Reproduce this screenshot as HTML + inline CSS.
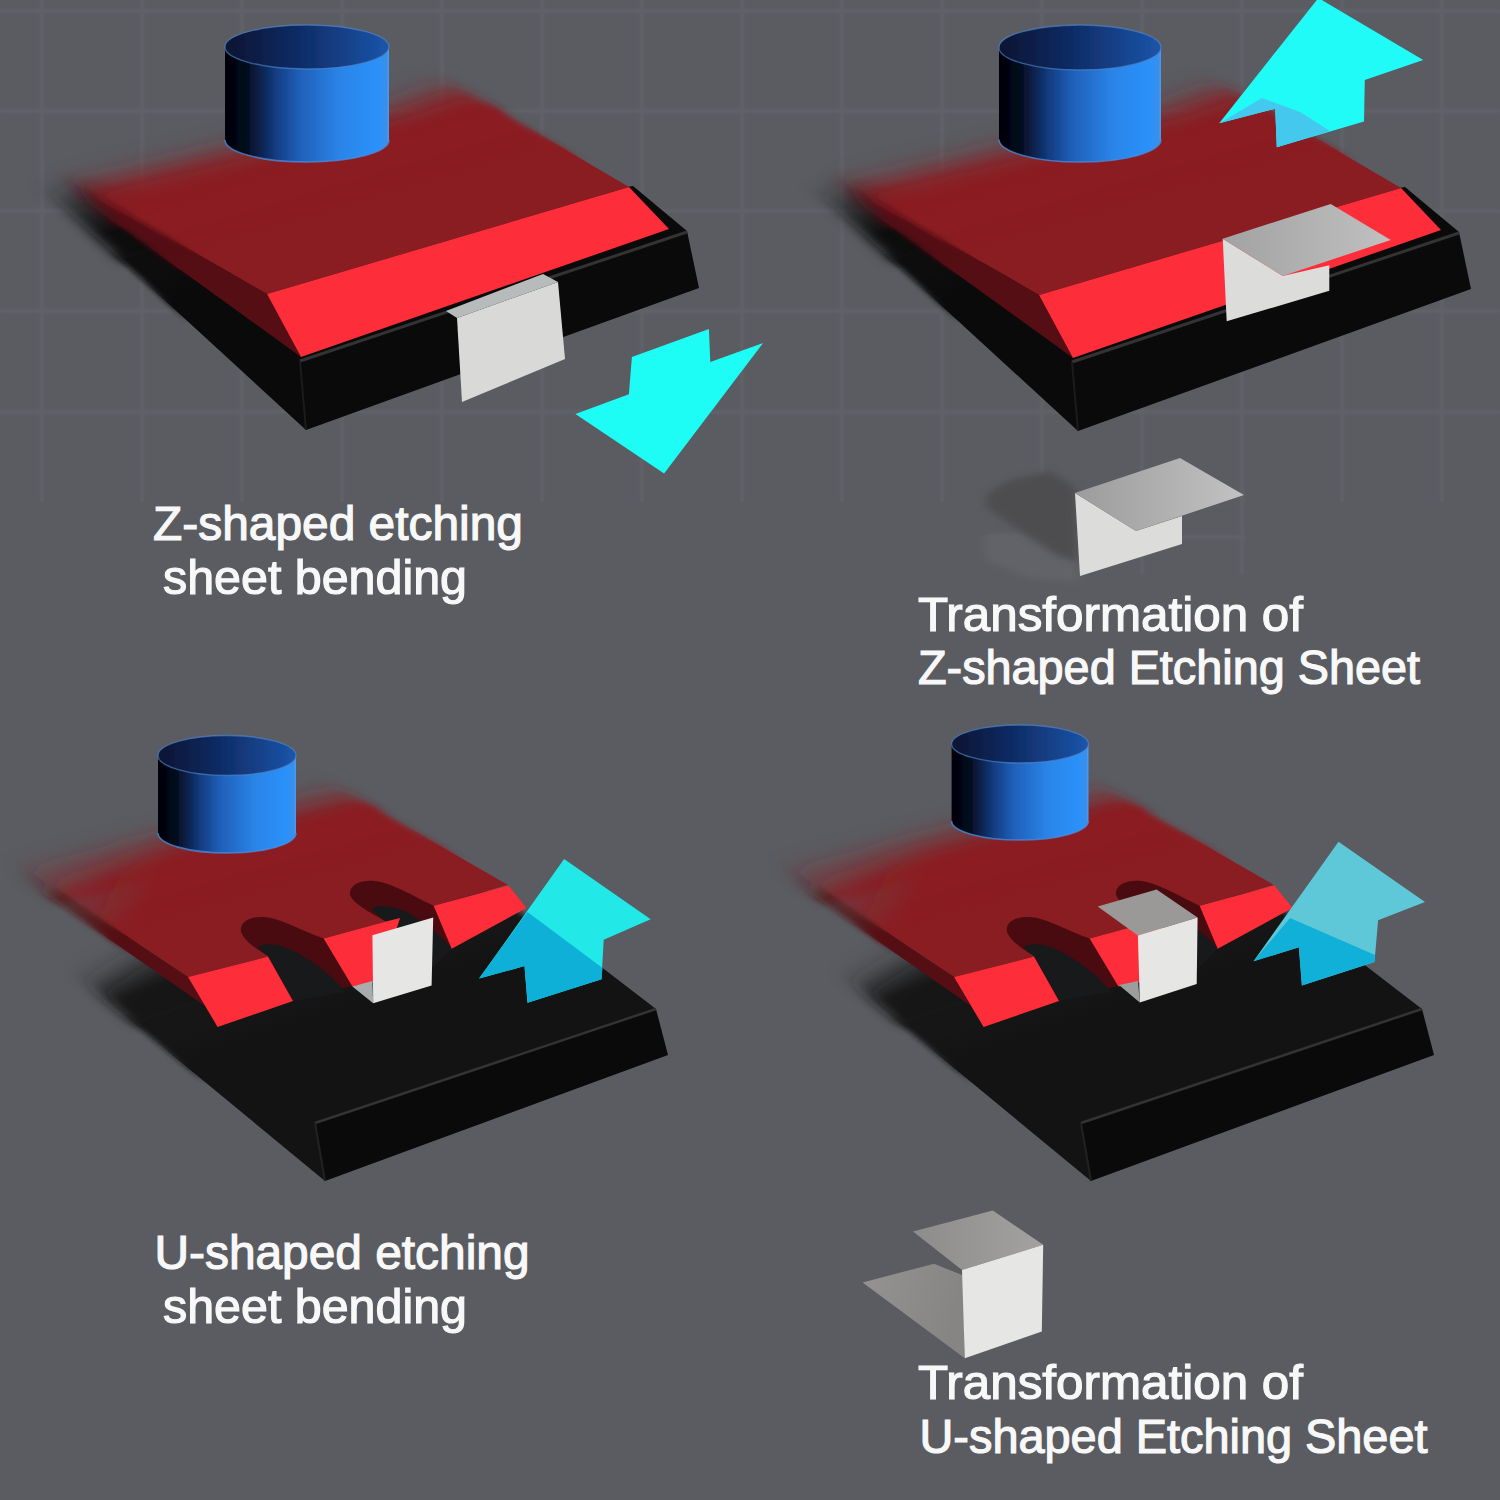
<!DOCTYPE html>
<html><head><meta charset="utf-8"><style>
html,body{margin:0;padding:0;background:#5a5c61;}
svg{display:block;}
text{font-family:"Liberation Sans",sans-serif;}
</style></head><body>
<svg width="1500" height="1500" viewBox="0 0 1500 1500">
<defs>
<linearGradient id="cylSide" x1="0" y1="0" x2="1" y2="0">
<stop offset="0" stop-color="#02040c"/>
<stop offset="0.12" stop-color="#040818"/>
<stop offset="0.3" stop-color="#123a7c"/>
<stop offset="0.45" stop-color="#1f5fb8"/>
<stop offset="0.7" stop-color="#2a84e8"/>
<stop offset="0.93" stop-color="#2c91fa"/>
<stop offset="1" stop-color="#3a8fe8"/>
</linearGradient>
<linearGradient id="cylTop" x1="0" y1="0" x2="1" y2="0">
<stop offset="0" stop-color="#071330"/>
<stop offset="0.45" stop-color="#0f2c66"/>
<stop offset="1" stop-color="#1b55aa"/>
</linearGradient>
<linearGradient id="blkFadeT" gradientUnits="userSpaceOnUse" x1="50" y1="195" x2="130" y2="250">
<stop offset="0" stop-color="#0a0a0a" stop-opacity="0.15"/><stop offset="1" stop-color="#0a0a0a" stop-opacity="1"/></linearGradient>
<linearGradient id="blkFadeB" gradientUnits="userSpaceOnUse" x1="90" y1="975" x2="200" y2="1060">
<stop offset="0" stop-color="#0c0c0c" stop-opacity="0.1"/><stop offset="1" stop-color="#0c0c0c" stop-opacity="1"/></linearGradient>
<filter id="ghost" x="-50%" y="-50%" width="200%" height="200%"><feGaussianBlur stdDeviation="5 3"/></filter>
<linearGradient id="zTop" gradientUnits="userSpaceOnUse" x1="1075" y1="0" x2="1244" y2="0">
<stop offset="0" stop-color="#9c9c9c"/><stop offset="1" stop-color="#c2c2c2"/></linearGradient>
<linearGradient id="zTop2" gradientUnits="userSpaceOnUse" x1="1222" y1="0" x2="1390" y2="0">
<stop offset="0" stop-color="#a2a2a2"/><stop offset="1" stop-color="#c0c0c0"/></linearGradient>
<linearGradient id="uBot" gradientUnits="userSpaceOnUse" x1="870" y1="1275" x2="960" y2="1300">
<stop offset="0" stop-color="#949290"/><stop offset="1" stop-color="#878583"/></linearGradient>
<linearGradient id="uTop" gradientUnits="userSpaceOnUse" x1="913" y1="0" x2="1043" y2="0">
<stop offset="0" stop-color="#8e8c8a"/><stop offset="1" stop-color="#a4a2a0"/></linearGradient>
<linearGradient id="redFadeB" gradientUnits="userSpaceOnUse" x1="30" y1="868" x2="140" y2="920">
<stop offset="0" stop-color="#8a1d22" stop-opacity="0.35"/><stop offset="1" stop-color="#8a1d22" stop-opacity="1"/></linearGradient>
<linearGradient id="bevFadeB" gradientUnits="userSpaceOnUse" x1="30" y1="868" x2="140" y2="920">
<stop offset="0" stop-color="#550e13" stop-opacity="0.35"/><stop offset="1" stop-color="#550e13" stop-opacity="1"/></linearGradient>
<filter id="soft" x="-5%" y="-5%" width="110%" height="110%"><feGaussianBlur stdDeviation="1"/></filter>
<filter id="b1" x="-10%" y="-10%" width="120%" height="120%"><feGaussianBlur stdDeviation="0.7"/></filter>
<filter id="b6" x="-50%" y="-50%" width="200%" height="200%"><feGaussianBlur stdDeviation="6"/></filter>
<filter id="b10" x="-50%" y="-50%" width="200%" height="200%"><feGaussianBlur stdDeviation="10"/></filter>
</defs>
<rect width="1500" height="1500" fill="#5a5c61"/>

<g stroke="#606267" stroke-width="4" filter="url(#soft)">
<line x1="42" y1="0" x2="42" y2="502"/>
<line x1="142" y1="0" x2="142" y2="502"/>
<line x1="242" y1="0" x2="242" y2="502"/>
<line x1="342" y1="0" x2="342" y2="502"/>
<line x1="442" y1="0" x2="442" y2="502"/>
<line x1="542" y1="0" x2="542" y2="502"/>
<line x1="642" y1="0" x2="642" y2="502"/>
<line x1="742" y1="0" x2="742" y2="502"/>
<line x1="842" y1="0" x2="842" y2="502"/>
<line x1="942" y1="0" x2="942" y2="502"/>
<line x1="1042" y1="0" x2="1042" y2="575"/>
<line x1="1142" y1="0" x2="1142" y2="575"/>
<line x1="1242" y1="0" x2="1242" y2="575"/>
<line x1="1342" y1="0" x2="1342" y2="502"/>
<line x1="1442" y1="0" x2="1442" y2="502"/>
<line x1="0" y1="11" x2="1500" y2="11"/>
<line x1="0" y1="111" x2="1500" y2="111"/>
<line x1="0" y1="211" x2="1500" y2="211"/>
<line x1="0" y1="311" x2="1500" y2="311"/>
<line x1="0" y1="412" x2="1500" y2="412"/>
<line x1="985" y1="537" x2="1245" y2="537"/>
</g>
<defs>
<g id="cq1b"><g transform="translate(0,0)"><polygon points="306.0,430.0 699.0,288.0 687.0,231.0 633.0,186.0 300.0,240.0 75.0,180.0 50.0,195.0" fill="#0a0a0a" />
<line x1="300" y1="361" x2="687" y2="232" stroke="#333" stroke-width="3"/>
<line x1="300" y1="361" x2="306" y2="430" stroke="#1c1c1c" stroke-width="2"/></g></g>
<linearGradient id="gq1b0" gradientUnits="userSpaceOnUse" x1="300.0" y1="360.0" x2="218.4" y2="113.3"><stop offset="0.5385" stop-color="#fff" stop-opacity="0"/><stop offset="0.5962" stop-color="#fff" stop-opacity="1"/><stop offset="0.6923" stop-color="#fff" stop-opacity="1"/><stop offset="1.0192" stop-color="#fff" stop-opacity="0"/></linearGradient>
<mask id="mq1b0" maskUnits="userSpaceOnUse" x="-200" y="-200" width="1900" height="1900"><rect x="-200" y="-200" width="1900" height="1900" fill="url(#gq1b0)"/></mask>
<filter id="fq1b0" filterUnits="userSpaceOnUse" x="-2000" y="-2000" width="5000" height="5000"><feGaussianBlur stdDeviation="18 5"/></filter>
<linearGradient id="gq1b1" gradientUnits="userSpaceOnUse" x1="300.0" y1="360.0" x2="218.4" y2="113.3"><stop offset="0.2692" stop-color="#fff" stop-opacity="0"/><stop offset="0.3462" stop-color="#fff" stop-opacity="1"/><stop offset="0.5769" stop-color="#fff" stop-opacity="1"/><stop offset="0.6346" stop-color="#fff" stop-opacity="0"/></linearGradient>
<mask id="mq1b1" maskUnits="userSpaceOnUse" x="-200" y="-200" width="1900" height="1900"><rect x="-200" y="-200" width="1900" height="1900" fill="url(#gq1b1)"/></mask>
<filter id="fq1b1" filterUnits="userSpaceOnUse" x="-2000" y="-2000" width="5000" height="5000"><feGaussianBlur stdDeviation="5 2.5"/></filter>
<linearGradient id="gq1b2" gradientUnits="userSpaceOnUse" x1="300.0" y1="360.0" x2="218.4" y2="113.3"><stop offset="0.0000" stop-color="#fff" stop-opacity="1"/><stop offset="0.3462" stop-color="#fff" stop-opacity="1"/><stop offset="0.4808" stop-color="#fff" stop-opacity="0"/></linearGradient>
<mask id="mq1b2" maskUnits="userSpaceOnUse" x="-200" y="-200" width="1900" height="1900"><rect x="-200" y="-200" width="1900" height="1900" fill="url(#gq1b2)"/></mask>
</defs>
<g mask="url(#mq1b0)"><g transform="rotate(30.4 300 360)"><g filter="url(#fq1b0)"><use href="#cq1b" transform="rotate(-30.4 300 360)"/></g></g></g>
<g mask="url(#mq1b1)"><g transform="rotate(30.4 300 360)"><g filter="url(#fq1b1)"><use href="#cq1b" transform="rotate(-30.4 300 360)"/></g></g></g>
<g mask="url(#mq1b2)"><use href="#cq1b"/></g>
<defs>
<g id="cq1p"><g transform="translate(0,0)"><polygon points="267.0,294.0 301.0,357.0 88.0,203.0 80.0,186.0" fill="#550e13" />
<polygon points="267.0,294.0 629.0,187.0 462.0,89.0 440.0,92.0 400.0,107.0 215.0,154.0 80.0,186.0" fill="#8a1d22" />
<polygon points="267.0,294.0 629.0,187.0 669.0,229.0 301.0,357.0" fill="#fe2d3a" /></g></g>
<linearGradient id="gq1p0" gradientUnits="userSpaceOnUse" x1="267.0" y1="294.0" x2="193.4" y2="44.7"><stop offset="0.3846" stop-color="#fff" stop-opacity="0"/><stop offset="0.4308" stop-color="#fff" stop-opacity="1"/><stop offset="0.5577" stop-color="#fff" stop-opacity="1"/><stop offset="0.8846" stop-color="#fff" stop-opacity="0"/></linearGradient>
<mask id="mq1p0" maskUnits="userSpaceOnUse" x="-200" y="-200" width="1900" height="1900"><rect x="-200" y="-200" width="1900" height="1900" fill="url(#gq1p0)"/></mask>
<filter id="fq1p0" filterUnits="userSpaceOnUse" x="-2000" y="-2000" width="5000" height="5000"><feGaussianBlur stdDeviation="18 5"/></filter>
<linearGradient id="gq1p1" gradientUnits="userSpaceOnUse" x1="267.0" y1="294.0" x2="193.4" y2="44.7"><stop offset="0.1346" stop-color="#fff" stop-opacity="0"/><stop offset="0.2115" stop-color="#fff" stop-opacity="1"/><stop offset="0.4231" stop-color="#fff" stop-opacity="1"/><stop offset="0.4808" stop-color="#fff" stop-opacity="0"/></linearGradient>
<mask id="mq1p1" maskUnits="userSpaceOnUse" x="-200" y="-200" width="1900" height="1900"><rect x="-200" y="-200" width="1900" height="1900" fill="url(#gq1p1)"/></mask>
<filter id="fq1p1" filterUnits="userSpaceOnUse" x="-2000" y="-2000" width="5000" height="5000"><feGaussianBlur stdDeviation="5 2.5"/></filter>
<linearGradient id="gq1p2" gradientUnits="userSpaceOnUse" x1="267.0" y1="294.0" x2="193.4" y2="44.7"><stop offset="0.0000" stop-color="#fff" stop-opacity="1"/><stop offset="0.2115" stop-color="#fff" stop-opacity="1"/><stop offset="0.3269" stop-color="#fff" stop-opacity="0"/></linearGradient>
<mask id="mq1p2" maskUnits="userSpaceOnUse" x="-200" y="-200" width="1900" height="1900"><rect x="-200" y="-200" width="1900" height="1900" fill="url(#gq1p2)"/></mask>
</defs>
<g mask="url(#mq1p0)"><g transform="rotate(30.4 267 294)"><g filter="url(#fq1p0)"><use href="#cq1p" transform="rotate(-30.4 267 294)"/></g></g></g>
<g mask="url(#mq1p1)"><g transform="rotate(30.4 267 294)"><g filter="url(#fq1p1)"><use href="#cq1p" transform="rotate(-30.4 267 294)"/></g></g></g>
<g mask="url(#mq1p2)"><use href="#cq1p"/></g>
<g filter="url(#b1)">
<path d="M225.0,47.0 L225.0,140.0 A82.0,22.0 0 0 0 389.0,140.0 L389.0,47.0 Z" fill="url(#cylSide)"/>
<path d="M225.0,140.0 A82.0,22.0 0 0 0 389.0,140.0" fill="none" stroke="#4a8ee0" stroke-width="1.6" stroke-opacity="0.75"/>
<line x1="388.2" y1="47.0" x2="388.2" y2="140.0" stroke="#5aa0ee" stroke-width="1.6" stroke-opacity="0.6"/>
<ellipse cx="307.0" cy="47.0" rx="82.0" ry="22.0" fill="url(#cylTop)" stroke="#4f86cc" stroke-width="1.4" stroke-opacity="0.65"/>
</g>
<polygon points="446.0,311.0 543.0,274.0 558.0,282.0 457.0,318.0" fill="#b7bbbb" />
<polygon points="457.0,318.0 558.0,282.0 565.0,359.0 462.0,402.0" fill="#d9d9d7" />
<polygon points="575.4,414.1 628.9,394.3 631.9,356.9 708.9,329.1 710.3,362.1 763.1,343.0 664.1,473.5" fill="#1efcf6" />
<defs>
<g id="cq2b"><g transform="translate(772,1)"><polygon points="306.0,430.0 699.0,288.0 687.0,231.0 633.0,186.0 300.0,240.0 75.0,180.0 50.0,195.0" fill="#0a0a0a" />
<line x1="300" y1="361" x2="687" y2="232" stroke="#333" stroke-width="3"/>
<line x1="300" y1="361" x2="306" y2="430" stroke="#1c1c1c" stroke-width="2"/></g></g>
<linearGradient id="gq2b0" gradientUnits="userSpaceOnUse" x1="1072.0" y1="361.0" x2="990.4" y2="114.3"><stop offset="0.5385" stop-color="#fff" stop-opacity="0"/><stop offset="0.5962" stop-color="#fff" stop-opacity="1"/><stop offset="0.6923" stop-color="#fff" stop-opacity="1"/><stop offset="1.0192" stop-color="#fff" stop-opacity="0"/></linearGradient>
<mask id="mq2b0" maskUnits="userSpaceOnUse" x="-200" y="-200" width="1900" height="1900"><rect x="-200" y="-200" width="1900" height="1900" fill="url(#gq2b0)"/></mask>
<filter id="fq2b0" filterUnits="userSpaceOnUse" x="-2000" y="-2000" width="5000" height="5000"><feGaussianBlur stdDeviation="18 5"/></filter>
<linearGradient id="gq2b1" gradientUnits="userSpaceOnUse" x1="1072.0" y1="361.0" x2="990.4" y2="114.3"><stop offset="0.2692" stop-color="#fff" stop-opacity="0"/><stop offset="0.3462" stop-color="#fff" stop-opacity="1"/><stop offset="0.5769" stop-color="#fff" stop-opacity="1"/><stop offset="0.6346" stop-color="#fff" stop-opacity="0"/></linearGradient>
<mask id="mq2b1" maskUnits="userSpaceOnUse" x="-200" y="-200" width="1900" height="1900"><rect x="-200" y="-200" width="1900" height="1900" fill="url(#gq2b1)"/></mask>
<filter id="fq2b1" filterUnits="userSpaceOnUse" x="-2000" y="-2000" width="5000" height="5000"><feGaussianBlur stdDeviation="5 2.5"/></filter>
<linearGradient id="gq2b2" gradientUnits="userSpaceOnUse" x1="1072.0" y1="361.0" x2="990.4" y2="114.3"><stop offset="0.0000" stop-color="#fff" stop-opacity="1"/><stop offset="0.3462" stop-color="#fff" stop-opacity="1"/><stop offset="0.4808" stop-color="#fff" stop-opacity="0"/></linearGradient>
<mask id="mq2b2" maskUnits="userSpaceOnUse" x="-200" y="-200" width="1900" height="1900"><rect x="-200" y="-200" width="1900" height="1900" fill="url(#gq2b2)"/></mask>
</defs>
<g mask="url(#mq2b0)"><g transform="rotate(30.4 1072 361)"><g filter="url(#fq2b0)"><use href="#cq2b" transform="rotate(-30.4 1072 361)"/></g></g></g>
<g mask="url(#mq2b1)"><g transform="rotate(30.4 1072 361)"><g filter="url(#fq2b1)"><use href="#cq2b" transform="rotate(-30.4 1072 361)"/></g></g></g>
<g mask="url(#mq2b2)"><use href="#cq2b"/></g>
<defs>
<g id="cq2p"><g transform="translate(772,1)"><polygon points="267.0,294.0 301.0,357.0 88.0,203.0 80.0,186.0" fill="#550e13" />
<polygon points="267.0,294.0 629.0,187.0 462.0,89.0 440.0,92.0 400.0,107.0 215.0,154.0 80.0,186.0" fill="#8a1d22" />
<polygon points="267.0,294.0 629.0,187.0 669.0,229.0 301.0,357.0" fill="#fe2d3a" /></g></g>
<linearGradient id="gq2p0" gradientUnits="userSpaceOnUse" x1="1039.0" y1="295.0" x2="965.4" y2="45.7"><stop offset="0.3846" stop-color="#fff" stop-opacity="0"/><stop offset="0.4308" stop-color="#fff" stop-opacity="1"/><stop offset="0.5577" stop-color="#fff" stop-opacity="1"/><stop offset="0.8846" stop-color="#fff" stop-opacity="0"/></linearGradient>
<mask id="mq2p0" maskUnits="userSpaceOnUse" x="-200" y="-200" width="1900" height="1900"><rect x="-200" y="-200" width="1900" height="1900" fill="url(#gq2p0)"/></mask>
<filter id="fq2p0" filterUnits="userSpaceOnUse" x="-2000" y="-2000" width="5000" height="5000"><feGaussianBlur stdDeviation="18 5"/></filter>
<linearGradient id="gq2p1" gradientUnits="userSpaceOnUse" x1="1039.0" y1="295.0" x2="965.4" y2="45.7"><stop offset="0.1346" stop-color="#fff" stop-opacity="0"/><stop offset="0.2115" stop-color="#fff" stop-opacity="1"/><stop offset="0.4231" stop-color="#fff" stop-opacity="1"/><stop offset="0.4808" stop-color="#fff" stop-opacity="0"/></linearGradient>
<mask id="mq2p1" maskUnits="userSpaceOnUse" x="-200" y="-200" width="1900" height="1900"><rect x="-200" y="-200" width="1900" height="1900" fill="url(#gq2p1)"/></mask>
<filter id="fq2p1" filterUnits="userSpaceOnUse" x="-2000" y="-2000" width="5000" height="5000"><feGaussianBlur stdDeviation="5 2.5"/></filter>
<linearGradient id="gq2p2" gradientUnits="userSpaceOnUse" x1="1039.0" y1="295.0" x2="965.4" y2="45.7"><stop offset="0.0000" stop-color="#fff" stop-opacity="1"/><stop offset="0.2115" stop-color="#fff" stop-opacity="1"/><stop offset="0.3269" stop-color="#fff" stop-opacity="0"/></linearGradient>
<mask id="mq2p2" maskUnits="userSpaceOnUse" x="-200" y="-200" width="1900" height="1900"><rect x="-200" y="-200" width="1900" height="1900" fill="url(#gq2p2)"/></mask>
</defs>
<g mask="url(#mq2p0)"><g transform="rotate(30.4 1039 295)"><g filter="url(#fq2p0)"><use href="#cq2p" transform="rotate(-30.4 1039 295)"/></g></g></g>
<g mask="url(#mq2p1)"><g transform="rotate(30.4 1039 295)"><g filter="url(#fq2p1)"><use href="#cq2p" transform="rotate(-30.4 1039 295)"/></g></g></g>
<g mask="url(#mq2p2)"><use href="#cq2p"/></g>
<g filter="url(#b1)">
<path d="M999.0,47.5 L999.0,139.5 A81.0,22.5 0 0 0 1161.0,139.5 L1161.0,47.5 Z" fill="url(#cylSide)"/>
<path d="M999.0,139.5 A81.0,22.5 0 0 0 1161.0,139.5" fill="none" stroke="#4a8ee0" stroke-width="1.6" stroke-opacity="0.75"/>
<line x1="1160.2" y1="47.5" x2="1160.2" y2="139.5" stroke="#5aa0ee" stroke-width="1.6" stroke-opacity="0.6"/>
<ellipse cx="1080.0" cy="47.5" rx="81.0" ry="22.5" fill="url(#cylTop)" stroke="#4f86cc" stroke-width="1.4" stroke-opacity="0.65"/>
</g>
<polygon points="1222.7,238.7 1282.7,276.0 1329.3,265.3 1329.3,290.7 1226.7,321.3" fill="#dcdcda" />
<polygon points="1222.7,238.7 1330.7,204.0 1390.7,240.0 1282.7,276.0" fill="url(#zTop2)" />
<polygon points="1318.4,-2.0 1423.2,60.0 1364.8,80.0 1364.0,121.6 1276.8,147.2 1275.2,108.8 1219.2,123.2" fill="#20fbf8" />
<polygon points="1219.2,123.2 1275.2,108.8 1276.8,147.2 1330.0,131.0 1300.0,112.0 1262.0,98.0" fill="#45c8ee" />
<polygon points="984,536 1030,532 1076,545 1078,582 1030,578 986,560" fill="#626468" filter="url(#ghost)"/>
<polygon points="986,494 1010,480 1050,471 1076,488 1078,562 1058,556 1030,538 986,507" fill="#4e4d50" filter="url(#ghost)"/>
<g filter="url(#b1)">
<polygon points="1075.0,493.0 1136.0,531.0 1182.0,516.0 1182.0,544.0 1080.0,576.0" fill="#dcdcda" />
<polygon points="1075.0,493.0 1180.0,458.0 1244.0,495.0 1136.0,531.0" fill="url(#zTop)" />
</g>
<defs>
<g id="cq3b"><g transform="translate(0,0)"><polygon points="325.0,1181.0 315.0,1123.0 656.0,1009.0 600.0,966.0 470.0,880.0 200.0,930.0 130.0,962.0 95.0,985.0 103.0,998.0" fill="#131313" />
<polygon points="315.0,1123.0 656.0,1009.0 668.0,1055.0 325.0,1181.0" fill="#0a0a0a" />
<line x1="315" y1="1123" x2="656" y2="1009" stroke="#333" stroke-width="2.5"/>
<line x1="315" y1="1123" x2="325" y2="1181" stroke="#222" stroke-width="2"/></g></g>
<linearGradient id="gq3b0" gradientUnits="userSpaceOnUse" x1="315.0" y1="1123.0" x2="232.6" y2="876.5"><stop offset="0.5385" stop-color="#fff" stop-opacity="0"/><stop offset="0.5962" stop-color="#fff" stop-opacity="1"/><stop offset="0.6923" stop-color="#fff" stop-opacity="1"/><stop offset="1.0192" stop-color="#fff" stop-opacity="0"/></linearGradient>
<mask id="mq3b0" maskUnits="userSpaceOnUse" x="-200" y="-200" width="1900" height="1900"><rect x="-200" y="-200" width="1900" height="1900" fill="url(#gq3b0)"/></mask>
<filter id="fq3b0" filterUnits="userSpaceOnUse" x="-2000" y="-2000" width="5000" height="5000"><feGaussianBlur stdDeviation="18 5"/></filter>
<linearGradient id="gq3b1" gradientUnits="userSpaceOnUse" x1="315.0" y1="1123.0" x2="232.6" y2="876.5"><stop offset="0.2692" stop-color="#fff" stop-opacity="0"/><stop offset="0.3462" stop-color="#fff" stop-opacity="1"/><stop offset="0.5769" stop-color="#fff" stop-opacity="1"/><stop offset="0.6346" stop-color="#fff" stop-opacity="0"/></linearGradient>
<mask id="mq3b1" maskUnits="userSpaceOnUse" x="-200" y="-200" width="1900" height="1900"><rect x="-200" y="-200" width="1900" height="1900" fill="url(#gq3b1)"/></mask>
<filter id="fq3b1" filterUnits="userSpaceOnUse" x="-2000" y="-2000" width="5000" height="5000"><feGaussianBlur stdDeviation="5 2.5"/></filter>
<linearGradient id="gq3b2" gradientUnits="userSpaceOnUse" x1="315.0" y1="1123.0" x2="232.6" y2="876.5"><stop offset="0.0000" stop-color="#fff" stop-opacity="1"/><stop offset="0.3462" stop-color="#fff" stop-opacity="1"/><stop offset="0.4808" stop-color="#fff" stop-opacity="0"/></linearGradient>
<mask id="mq3b2" maskUnits="userSpaceOnUse" x="-200" y="-200" width="1900" height="1900"><rect x="-200" y="-200" width="1900" height="1900" fill="url(#gq3b2)"/></mask>
</defs>
<g mask="url(#mq3b0)"><g transform="rotate(30.4 315 1123)"><g filter="url(#fq3b0)"><use href="#cq3b" transform="rotate(-30.4 315 1123)"/></g></g></g>
<g mask="url(#mq3b1)"><g transform="rotate(30.4 315 1123)"><g filter="url(#fq3b1)"><use href="#cq3b" transform="rotate(-30.4 315 1123)"/></g></g></g>
<g mask="url(#mq3b2)"><use href="#cq3b"/></g>
<defs>
<g id="cq3p"><g transform="translate(0,0)"><polygon points="188.0,977.0 205.0,1006.0 40.0,891.0 35.0,874.0" fill="url(#bevFadeB)" />
<polygon points="188.0,977.0 268.0,956.6 323.6,938.6 386.0,921.6 433.6,905.8 508.0,885.0 350.0,794.0 330.0,798.0 150.0,845.0 35.0,874.0" fill="url(#redFadeB)" />
<path d="M268,956 C258,950 245,942 241,932 C239,921 252,916 264,917 C280,918 300,930 323.6,938.6 L352,986 L293,1001 Z" fill="#4a0b10"/>
<path d="M268,956 C262,952 258,949 258,947 C266,942 282,944 298,953 C312,962 330,972 345,992 L293,1001 Z" fill="#17191b"/>
<path d="M386,921.6 C372,913 354,905 350,895 C349,884 362,880 375,881 C392,883 415,897 433.6,905.8 L452,948 L420,980 Z" fill="#4a0b10"/>
<path d="M386,921.6 C378,915 372,911 372,909 C380,903 398,907 412,915 C425,924 440,935 452,948 L420,980 Z" fill="#17191b"/>
<polygon points="188.0,977.0 268.0,956.6 293.0,1001.0 217.6,1027.0" fill="#fe2d3a" />
<polygon points="323.6,938.6 386.0,921.6 400.0,918.0 380.0,981.0 352.4,986.4" fill="#fe2d3a" />
<polygon points="433.6,905.8 508.4,885.4 526.5,908.0 451.7,948.8" fill="#fe2d3a" /></g></g>
<linearGradient id="gq3p0" gradientUnits="userSpaceOnUse" x1="188.0" y1="977.0" x2="116.2" y2="727.1"><stop offset="0.3846" stop-color="#fff" stop-opacity="0"/><stop offset="0.4308" stop-color="#fff" stop-opacity="1"/><stop offset="0.5577" stop-color="#fff" stop-opacity="1"/><stop offset="0.8846" stop-color="#fff" stop-opacity="0"/></linearGradient>
<mask id="mq3p0" maskUnits="userSpaceOnUse" x="-200" y="-200" width="1900" height="1900"><rect x="-200" y="-200" width="1900" height="1900" fill="url(#gq3p0)"/></mask>
<filter id="fq3p0" filterUnits="userSpaceOnUse" x="-2000" y="-2000" width="5000" height="5000"><feGaussianBlur stdDeviation="18 5"/></filter>
<linearGradient id="gq3p1" gradientUnits="userSpaceOnUse" x1="188.0" y1="977.0" x2="116.2" y2="727.1"><stop offset="0.1346" stop-color="#fff" stop-opacity="0"/><stop offset="0.2115" stop-color="#fff" stop-opacity="1"/><stop offset="0.4231" stop-color="#fff" stop-opacity="1"/><stop offset="0.4808" stop-color="#fff" stop-opacity="0"/></linearGradient>
<mask id="mq3p1" maskUnits="userSpaceOnUse" x="-200" y="-200" width="1900" height="1900"><rect x="-200" y="-200" width="1900" height="1900" fill="url(#gq3p1)"/></mask>
<filter id="fq3p1" filterUnits="userSpaceOnUse" x="-2000" y="-2000" width="5000" height="5000"><feGaussianBlur stdDeviation="5 2.5"/></filter>
<linearGradient id="gq3p2" gradientUnits="userSpaceOnUse" x1="188.0" y1="977.0" x2="116.2" y2="727.1"><stop offset="0.0000" stop-color="#fff" stop-opacity="1"/><stop offset="0.2115" stop-color="#fff" stop-opacity="1"/><stop offset="0.3269" stop-color="#fff" stop-opacity="0"/></linearGradient>
<mask id="mq3p2" maskUnits="userSpaceOnUse" x="-200" y="-200" width="1900" height="1900"><rect x="-200" y="-200" width="1900" height="1900" fill="url(#gq3p2)"/></mask>
</defs>
<g mask="url(#mq3p0)"><g transform="rotate(30.4 188 977)"><g filter="url(#fq3p0)"><use href="#cq3p" transform="rotate(-30.4 188 977)"/></g></g></g>
<g mask="url(#mq3p1)"><g transform="rotate(30.4 188 977)"><g filter="url(#fq3p1)"><use href="#cq3p" transform="rotate(-30.4 188 977)"/></g></g></g>
<g mask="url(#mq3p2)"><use href="#cq3p"/></g>
<g filter="url(#b1)">
<path d="M158.0,755.5 L158.0,833.0 A69.0,20.0 0 0 0 296.0,833.0 L296.0,755.5 Z" fill="url(#cylSide)"/>
<path d="M158.0,833.0 A69.0,20.0 0 0 0 296.0,833.0" fill="none" stroke="#4a8ee0" stroke-width="1.6" stroke-opacity="0.75"/>
<line x1="295.2" y1="755.5" x2="295.2" y2="833.0" stroke="#5aa0ee" stroke-width="1.6" stroke-opacity="0.6"/>
<ellipse cx="227.0" cy="755.5" rx="69.0" ry="20.0" fill="url(#cylTop)" stroke="#4f86cc" stroke-width="1.4" stroke-opacity="0.65"/>
</g>
<polygon points="352.4,986.4 372.4,981.0 373.2,1003.2" fill="#a8acac" />
<polygon points="372.4,935.2 433.2,917.6 431.6,985.6 373.2,1003.2" fill="#e6e6e4" />
<polygon points="479.1,978.6 524.5,966.1 527.5,1002.8 601.5,979.3 603.7,939.7 650.7,919.2 564.1,859.1" fill="#22e8e8" />
<polygon points="479.1,978.6 524.5,966.1 527.5,1002.8 601.5,979.3 602.5,968.0 527.5,912.0" fill="#0eb0d8" />
<defs>
<g id="cq4b"><g transform="translate(766,0)"><polygon points="325.0,1181.0 315.0,1123.0 656.0,1009.0 600.0,966.0 470.0,880.0 200.0,930.0 130.0,962.0 95.0,985.0 103.0,998.0" fill="#131313" />
<polygon points="315.0,1123.0 656.0,1009.0 668.0,1055.0 325.0,1181.0" fill="#0a0a0a" />
<line x1="315" y1="1123" x2="656" y2="1009" stroke="#333" stroke-width="2.5"/>
<line x1="315" y1="1123" x2="325" y2="1181" stroke="#222" stroke-width="2"/></g></g>
<linearGradient id="gq4b0" gradientUnits="userSpaceOnUse" x1="1081.0" y1="1123.0" x2="998.6" y2="876.5"><stop offset="0.5385" stop-color="#fff" stop-opacity="0"/><stop offset="0.5962" stop-color="#fff" stop-opacity="1"/><stop offset="0.6923" stop-color="#fff" stop-opacity="1"/><stop offset="1.0192" stop-color="#fff" stop-opacity="0"/></linearGradient>
<mask id="mq4b0" maskUnits="userSpaceOnUse" x="-200" y="-200" width="1900" height="1900"><rect x="-200" y="-200" width="1900" height="1900" fill="url(#gq4b0)"/></mask>
<filter id="fq4b0" filterUnits="userSpaceOnUse" x="-2000" y="-2000" width="5000" height="5000"><feGaussianBlur stdDeviation="18 5"/></filter>
<linearGradient id="gq4b1" gradientUnits="userSpaceOnUse" x1="1081.0" y1="1123.0" x2="998.6" y2="876.5"><stop offset="0.2692" stop-color="#fff" stop-opacity="0"/><stop offset="0.3462" stop-color="#fff" stop-opacity="1"/><stop offset="0.5769" stop-color="#fff" stop-opacity="1"/><stop offset="0.6346" stop-color="#fff" stop-opacity="0"/></linearGradient>
<mask id="mq4b1" maskUnits="userSpaceOnUse" x="-200" y="-200" width="1900" height="1900"><rect x="-200" y="-200" width="1900" height="1900" fill="url(#gq4b1)"/></mask>
<filter id="fq4b1" filterUnits="userSpaceOnUse" x="-2000" y="-2000" width="5000" height="5000"><feGaussianBlur stdDeviation="5 2.5"/></filter>
<linearGradient id="gq4b2" gradientUnits="userSpaceOnUse" x1="1081.0" y1="1123.0" x2="998.6" y2="876.5"><stop offset="0.0000" stop-color="#fff" stop-opacity="1"/><stop offset="0.3462" stop-color="#fff" stop-opacity="1"/><stop offset="0.4808" stop-color="#fff" stop-opacity="0"/></linearGradient>
<mask id="mq4b2" maskUnits="userSpaceOnUse" x="-200" y="-200" width="1900" height="1900"><rect x="-200" y="-200" width="1900" height="1900" fill="url(#gq4b2)"/></mask>
</defs>
<g mask="url(#mq4b0)"><g transform="rotate(30.4 1081 1123)"><g filter="url(#fq4b0)"><use href="#cq4b" transform="rotate(-30.4 1081 1123)"/></g></g></g>
<g mask="url(#mq4b1)"><g transform="rotate(30.4 1081 1123)"><g filter="url(#fq4b1)"><use href="#cq4b" transform="rotate(-30.4 1081 1123)"/></g></g></g>
<g mask="url(#mq4b2)"><use href="#cq4b"/></g>
<defs>
<g id="cq4p"><g transform="translate(766,0)"><polygon points="188.0,977.0 205.0,1006.0 40.0,891.0 35.0,874.0" fill="url(#bevFadeB)" />
<polygon points="188.0,977.0 268.0,956.6 323.6,938.6 386.0,921.6 433.6,905.8 508.0,885.0 350.0,794.0 330.0,798.0 150.0,845.0 35.0,874.0" fill="url(#redFadeB)" />
<path d="M268,956 C258,950 245,942 241,932 C239,921 252,916 264,917 C280,918 300,930 323.6,938.6 L352,986 L293,1001 Z" fill="#4a0b10"/>
<path d="M268,956 C262,952 258,949 258,947 C266,942 282,944 298,953 C312,962 330,972 345,992 L293,1001 Z" fill="#17191b"/>
<path d="M386,921.6 C372,913 354,905 350,895 C349,884 362,880 375,881 C392,883 415,897 433.6,905.8 L452,948 L420,980 Z" fill="#4a0b10"/>
<path d="M386,921.6 C378,915 372,911 372,909 C380,903 398,907 412,915 C425,924 440,935 452,948 L420,980 Z" fill="#17191b"/>
<polygon points="188.0,977.0 268.0,956.6 293.0,1001.0 217.6,1027.0" fill="#fe2d3a" />
<polygon points="323.6,938.6 386.0,921.6 400.0,918.0 380.0,981.0 352.4,986.4" fill="#fe2d3a" />
<polygon points="433.6,905.8 508.4,885.4 526.5,908.0 451.7,948.8" fill="#fe2d3a" /></g></g>
<linearGradient id="gq4p0" gradientUnits="userSpaceOnUse" x1="954.0" y1="977.0" x2="882.2" y2="727.1"><stop offset="0.3846" stop-color="#fff" stop-opacity="0"/><stop offset="0.4308" stop-color="#fff" stop-opacity="1"/><stop offset="0.5577" stop-color="#fff" stop-opacity="1"/><stop offset="0.8846" stop-color="#fff" stop-opacity="0"/></linearGradient>
<mask id="mq4p0" maskUnits="userSpaceOnUse" x="-200" y="-200" width="1900" height="1900"><rect x="-200" y="-200" width="1900" height="1900" fill="url(#gq4p0)"/></mask>
<filter id="fq4p0" filterUnits="userSpaceOnUse" x="-2000" y="-2000" width="5000" height="5000"><feGaussianBlur stdDeviation="18 5"/></filter>
<linearGradient id="gq4p1" gradientUnits="userSpaceOnUse" x1="954.0" y1="977.0" x2="882.2" y2="727.1"><stop offset="0.1346" stop-color="#fff" stop-opacity="0"/><stop offset="0.2115" stop-color="#fff" stop-opacity="1"/><stop offset="0.4231" stop-color="#fff" stop-opacity="1"/><stop offset="0.4808" stop-color="#fff" stop-opacity="0"/></linearGradient>
<mask id="mq4p1" maskUnits="userSpaceOnUse" x="-200" y="-200" width="1900" height="1900"><rect x="-200" y="-200" width="1900" height="1900" fill="url(#gq4p1)"/></mask>
<filter id="fq4p1" filterUnits="userSpaceOnUse" x="-2000" y="-2000" width="5000" height="5000"><feGaussianBlur stdDeviation="5 2.5"/></filter>
<linearGradient id="gq4p2" gradientUnits="userSpaceOnUse" x1="954.0" y1="977.0" x2="882.2" y2="727.1"><stop offset="0.0000" stop-color="#fff" stop-opacity="1"/><stop offset="0.2115" stop-color="#fff" stop-opacity="1"/><stop offset="0.3269" stop-color="#fff" stop-opacity="0"/></linearGradient>
<mask id="mq4p2" maskUnits="userSpaceOnUse" x="-200" y="-200" width="1900" height="1900"><rect x="-200" y="-200" width="1900" height="1900" fill="url(#gq4p2)"/></mask>
</defs>
<g mask="url(#mq4p0)"><g transform="rotate(30.4 954 977)"><g filter="url(#fq4p0)"><use href="#cq4p" transform="rotate(-30.4 954 977)"/></g></g></g>
<g mask="url(#mq4p1)"><g transform="rotate(30.4 954 977)"><g filter="url(#fq4p1)"><use href="#cq4p" transform="rotate(-30.4 954 977)"/></g></g></g>
<g mask="url(#mq4p2)"><use href="#cq4p"/></g>
<g filter="url(#b1)">
<path d="M951.6,744.0 L951.6,821.0 A68.4,19.0 0 0 0 1088.4,821.0 L1088.4,744.0 Z" fill="url(#cylSide)"/>
<path d="M951.6,821.0 A68.4,19.0 0 0 0 1088.4,821.0" fill="none" stroke="#4a8ee0" stroke-width="1.6" stroke-opacity="0.75"/>
<line x1="1087.6" y1="744.0" x2="1087.6" y2="821.0" stroke="#5aa0ee" stroke-width="1.6" stroke-opacity="0.6"/>
<ellipse cx="1020.0" cy="744.0" rx="68.4" ry="19.0" fill="url(#cylTop)" stroke="#4f86cc" stroke-width="1.4" stroke-opacity="0.65"/>
</g>
<polygon points="1119.0,985.0 1138.0,981.0 1139.8,1002.6" fill="#9a9e9e" />
<polygon points="1097.7,906.4 1156.6,889.6 1197.6,917.6 1137.9,935.4" fill="#9a9998" />
<polygon points="1137.9,935.4 1197.6,917.6 1196.7,983.9 1139.8,1002.6" fill="#e6e6e4" />
<polygon points="1253.5,961.3 1298.9,947.3 1301.9,985.5 1374.5,962.0 1378.1,920.2 1425.0,901.9 1338.5,841.7" fill="#5ec8d8" />
<polygon points="1253.5,961.3 1298.9,947.3 1301.9,985.5 1374.5,962.0 1375.0,955.0 1290.0,918.0" fill="#10b0d8" />
<g filter="url(#b1)">
<polygon points="862.6,1282.6 934.0,1263.7 963.4,1275.6 964.8,1358.2" fill="url(#uBot)" />
<polygon points="913.0,1231.5 992.8,1210.5 1043.2,1244.8 962.0,1270.0" fill="url(#uTop)" />
<polygon points="962.0,1270.0 1043.2,1244.8 1041.8,1331.6 964.8,1358.2" fill="#e6e6e4" />
</g>
<text x="153" y="540" font-size="48" fill="#f8f8f8" stroke="#f8f8f8" stroke-width="1.2" textLength="370" lengthAdjust="spacingAndGlyphs">Z-shaped etching</text>
<text x="163" y="593.5" font-size="48" fill="#f8f8f8" stroke="#f8f8f8" stroke-width="1.2" textLength="304" lengthAdjust="spacingAndGlyphs">sheet bending</text>
<text x="918" y="631" font-size="48" fill="#f8f8f8" stroke="#f8f8f8" stroke-width="1.2" textLength="385" lengthAdjust="spacingAndGlyphs">Transformation of</text>
<text x="918" y="684.4" font-size="48" fill="#f8f8f8" stroke="#f8f8f8" stroke-width="1.2" textLength="502" lengthAdjust="spacingAndGlyphs">Z-shaped Etching Sheet</text>
<text x="154.5" y="1269.3" font-size="48" fill="#f8f8f8" stroke="#f8f8f8" stroke-width="1.2" textLength="375" lengthAdjust="spacingAndGlyphs">U-shaped etching</text>
<text x="163" y="1322.7" font-size="48" fill="#f8f8f8" stroke="#f8f8f8" stroke-width="1.2" textLength="304" lengthAdjust="spacingAndGlyphs">sheet bending</text>
<text x="918" y="1399.3" font-size="48" fill="#f8f8f8" stroke="#f8f8f8" stroke-width="1.2" textLength="385" lengthAdjust="spacingAndGlyphs">Transformation of</text>
<text x="919.5" y="1452.6" font-size="48" fill="#f8f8f8" stroke="#f8f8f8" stroke-width="1.2" textLength="508" lengthAdjust="spacingAndGlyphs">U-shaped Etching Sheet</text>
</svg></body></html>
